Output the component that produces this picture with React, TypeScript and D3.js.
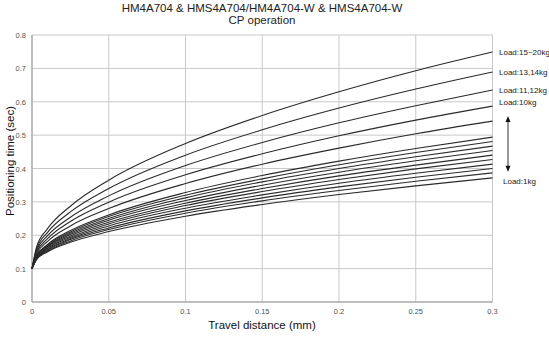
import React from "react";
import * as d3 from "d3";

// ---- data ----
const distances = [0, 0.003, 0.01, 0.025, 0.05, 0.1, 0.15, 0.2, 0.25, 0.3];

const load15to20 = [0.1, 0.165, 0.219, 0.287, 0.365, 0.475, 0.559, 0.630, 0.693, 0.749];
const load13_14 = [0.1, 0.159, 0.208, 0.270, 0.340, 0.440, 0.516, 0.581, 0.638, 0.689];
const load11_12 = [0.1, 0.154, 0.198, 0.254, 0.318, 0.409, 0.478, 0.537, 0.588, 0.635];
const load10 = [0.1, 0.149, 0.189, 0.241, 0.299, 0.381, 0.444, 0.498, 0.545, 0.587];
const loadA = [0.1, 0.144, 0.181, 0.228, 0.280, 0.355, 0.413, 0.461, 0.504, 0.542];
const loadB = [0.1, 0.139, 0.172, 0.214, 0.261, 0.328, 0.379, 0.422, 0.460, 0.494];
const loadC = [0.1, 0.138, 0.170, 0.210, 0.256, 0.320, 0.369, 0.411, 0.448, 0.481];
const loadD = [0.1, 0.137, 0.167, 0.206, 0.250, 0.312, 0.360, 0.400, 0.435, 0.467];
const loadE = [0.1, 0.135, 0.165, 0.202, 0.245, 0.304, 0.350, 0.389, 0.423, 0.454];
const loadF = [0.1, 0.134, 0.162, 0.198, 0.239, 0.296, 0.340, 0.378, 0.410, 0.440];
const loadG = [0.1, 0.133, 0.160, 0.194, 0.234, 0.289, 0.331, 0.367, 0.399, 0.427];
const loadH = [0.1, 0.131, 0.157, 0.190, 0.228, 0.281, 0.321, 0.356, 0.386, 0.413];
const loadI = [0.1, 0.130, 0.155, 0.187, 0.222, 0.273, 0.312, 0.345, 0.374, 0.400];
const loadJ = [0.1, 0.129, 0.152, 0.183, 0.217, 0.266, 0.303, 0.334, 0.362, 0.387];
const load1 = [0.1, 0.127, 0.150, 0.179, 0.211, 0.257, 0.292, 0.322, 0.348, 0.372];

const seriesList = [
  load15to20, load13_14, load11_12, load10,
  loadA, loadB, loadC, loadD, loadE, loadF, loadG, loadH, loadI, loadJ, load1,
];
const seriesLabels = ["Load:15~20kg", "Load:13,14kg", "Load:11,12kg", "Load:10kg"];
const bottomLabel = "Load:1kg";

const xTicks = [0, 0.05, 0.1, 0.15, 0.2, 0.25, 0.3];
const xTickLabels = ["0", "0.05", "0.1", "0.15", "0.2", "0.25", "0.3"];
const yTicks = [0, 0.1, 0.2, 0.3, 0.4, 0.5, 0.6, 0.7, 0.8];
const yTickLabels = ["0", "0.1", "0.2", "0.3", "0.4", "0.5", "0.6", "0.7", "0.8"];

const titleLines = ["HM4A704 & HMS4A704/HM4A704-W & HMS4A704-W", "CP operation"];
const xTitle = "Travel distance (mm)";
const yTitle = "Positioning time (sec)";

export default function App() {
  const W = 549, H = 353;
  const x = d3.scaleLinear().domain([0, 0.3]).range([32, 492.5]);
  const y = d3.scaleLinear().domain([0, 0.8]).range([302, 35]);
  const line = d3
    .line<number>()
    .x((_, i) => x(distances[i]))
    .y((d) => y(d))
    .curve(d3.curveMonotoneX);

  const font = "'Liberation Sans', Arial, sans-serif";
  const gridColor = "#c8c8c8";
  const arrowX = 508;
  const arrowTop = y(load10[load10.length - 1]) + 10;
  const arrowBottom = y(load1[load1.length - 1]) - 6;

  return (
    <svg
      width={W}
      height={H}
      style={{ position: "absolute", left: 0, top: 0, background: "#fff" }}
      fontFamily={font}
    >
      <rect x={0} y={0} width={W} height={H} fill="#fff" />
      {/* title */}
      {titleLines.map((t, i) => (
        <text key={t} x={262} y={12 + i * 12} textAnchor="middle" fontSize={11.5} fill="#222">
          {t}
        </text>
      ))}
      {/* grid */}
      {yTicks.map((t) => (
        <line key={"gy" + t} x1={x(0)} x2={x(0.3)} y1={y(t)} y2={y(t)} stroke={gridColor} strokeWidth={1} />
      ))}
      {xTicks.map((t) => (
        <line key={"gx" + t} x1={x(t)} x2={x(t)} y1={y(0)} y2={y(0.8)} stroke={gridColor} strokeWidth={1} />
      ))}
      {/* axes */}
      <line x1={x(0)} x2={x(0)} y1={y(0)} y2={y(0.8)} stroke="#999" strokeWidth={1} />
      <line x1={x(0)} x2={x(0.3)} y1={y(0)} y2={y(0)} stroke="#999" strokeWidth={1} />
      {/* tick labels */}
      {yTicks.map((t, i) => (
        <text key={"ty" + t} x={26} y={y(t) + 3} textAnchor="end" fontSize={7.5} fill="#555">
          {yTickLabels[i]}
        </text>
      ))}
      {xTicks.map((t, i) => (
        <text key={"tx" + t} x={x(t)} y={314} textAnchor="middle" fontSize={7.5} fill="#555">
          {xTickLabels[i]}
        </text>
      ))}
      {/* axis titles */}
      <text x={262} y={329} textAnchor="middle" fontSize={11.5} fill="#111">
        {xTitle}
      </text>
      <text
        transform={`translate(14,${161}) rotate(-90)`}
        textAnchor="middle"
        fontSize={11.5}
        fill="#111"
      >
        {yTitle}
      </text>
      {/* curves */}
      {seriesList.map((s, i) => (
        <path key={"s" + i} d={line(s) || ""} fill="none" stroke="#2a2a2a" strokeWidth={1.1} />
      ))}
      {/* labels */}
      {seriesLabels.map((lab, i) => {
        const s = seriesList[i];
        const yy = y(s[s.length - 1]) + (i === 3 ? -4 : 0);
        return (
          <text key={lab} x={499} y={yy + 3} fontSize={8} fill="#222">
            {lab}
          </text>
        );
      })}
      <text x={503} y={y(load1[load1.length - 1]) + 6} fontSize={8} fill="#222">
        {bottomLabel}
      </text>
      {/* arrow */}
      <line x1={arrowX} x2={arrowX} y1={arrowTop + 4} y2={arrowBottom - 4} stroke="#333" strokeWidth={1} />
      <path d={`M${arrowX},${arrowTop} L${arrowX - 2.5},${arrowTop + 6} L${arrowX + 2.5},${arrowTop + 6} Z`} fill="#111" />
      <path d={`M${arrowX},${arrowBottom} L${arrowX - 2.5},${arrowBottom - 6} L${arrowX + 2.5},${arrowBottom - 6} Z`} fill="#111" />
    </svg>
  );
}
